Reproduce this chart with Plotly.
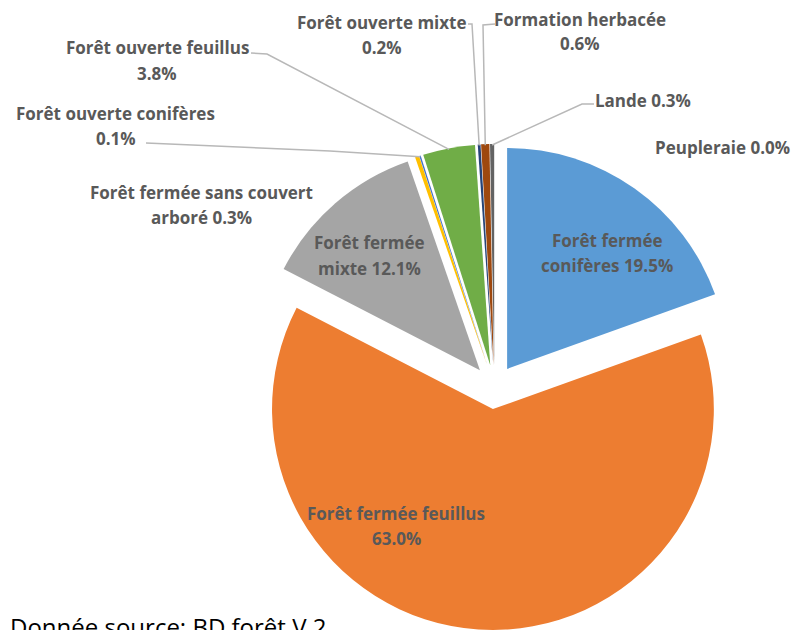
import math
import plotly.graph_objects as go

# ---------------- data ----------------
labels = [
    "Forêt fermée conifères",
    "Forêt fermée feuillus",
    "Forêt fermée mixte",
    "Forêt fermée sans couvert arboré",
    "Forêt ouverte conifères",
    "Forêt ouverte feuillus",
    "Forêt ouverte mixte",
    "Formation herbacée",
    "Lande",
    "Peupleraie",
]
values = [19.5, 63.0, 12.1, 0.3, 0.1, 3.8, 0.2, 0.6, 0.3, 0.0]
colors = ["#5B9BD5", "#ED7D31", "#A5A5A5", "#FFC000", "#4472C4",
          "#70AD47", "#264478", "#9E480E", "#636363", "#997300"]
source_note = "Donnée source: BD forêt V.2"

# ---------------- layout / style ----------------
W, H = 793, 630
PULL = 0.1
DOM_LEFT, DOM_TOP, DOM_SIZE = 251.4, 144.0, 486.0
TEXT_COLOR = "#595959"
LINE_COLOR = "#B8B8B8"
FONT = "Open Sans"
FSIZE = 17
LINE_GAP = 25

# number of words on first label line, label anchor (center x, first line y)
label_split = [2, 3, 2, 4, 3, 3, 3, 2, 2, 2]
label_pos = [(607, 240), (396, 513), (369, 243), (201, 192), (116, 113),
             (157, 48), (382, 23), (580, 19), (643, 100), (722, 147)]
# leader lines: label-side points (elbows); slice end computed from data
leaders = {
    4: [(146, 143), (330, 151)],
    5: [(251, 53), (267, 54)],
    6: [(468, 24), (472, 24)],
    7: [(495, 24), (483, 25)],
    8: [(594, 104), (582, 104)],
}


def px(x):
    return x / W


def py(y):
    return 1 - y / H


fig = go.Figure(go.Pie(
    labels=labels,
    values=values,
    marker=dict(colors=colors, line=dict(width=0)),
    sort=False,
    direction="clockwise",
    rotation=0,
    pull=[PULL] * len(values),
    textinfo="none",
    showlegend=False,
    domain=dict(x=[px(DOM_LEFT), px(DOM_LEFT + DOM_SIZE)],
                y=[py(DOM_TOP + DOM_SIZE), py(DOM_TOP)]),
))

# geometry consistent with plotly's pie scaling
r = DOM_SIZE / (2 + 2 * PULL)
cx = DOM_LEFT + DOM_SIZE / 2
cy = DOM_TOP + DOM_SIZE / 2
total = sum(values)

annotations = []
shapes = []
cum = 0.0
for i, (lab, v) in enumerate(zip(labels, values)):
    mid = (cum + v / 2) / total * 2 * math.pi
    cum += v
    words = (lab + " " + f"{v:.1f}%").split(" ")
    k = label_split[i]
    lines = [" ".join(words[:k])]
    if k < len(words):
        lines.append(" ".join(words[k:]))
    x0, y0 = label_pos[i]
    for j, t in enumerate(lines):
        annotations.append(dict(
            x=px(x0), y=py(y0 + j * LINE_GAP), xref="paper", yref="paper",
            text=t, showarrow=False, xanchor="center", yanchor="middle",
            font=dict(family=FONT, size=FSIZE, color=TEXT_COLOR, weight="bold"),
        ))
    if i in leaders:
        R = r * (1 + PULL) - 1
        ex = cx + R * math.sin(mid)
        ey = cy - R * math.cos(mid)
        pts = leaders[i] + [(ex, ey)]
        path = "M " + " L ".join(f"{px(a):.5f},{py(b):.5f}" for a, b in pts)
        shapes.append(dict(type="path", path=path, xref="paper", yref="paper",
                           line=dict(color=LINE_COLOR, width=1.5)))

annotations.append(dict(
    x=px(8), y=py(608), xref="paper", yref="paper", text=source_note,
    showarrow=False, xanchor="left", yanchor="top",
    font=dict(family=FONT, size=24, color="#000000"),
))

fig.update_layout(
    width=W, height=H,
    margin=dict(l=0, r=0, t=0, b=0),
    paper_bgcolor="white",
    plot_bgcolor="white",
    annotations=annotations,
    shapes=shapes,
)

fig.write_html("out.html",
               config={"displayModeBar": False},
               post_script="document.body.style.margin='0';"
                           "document.body.style.overflow='hidden';")
